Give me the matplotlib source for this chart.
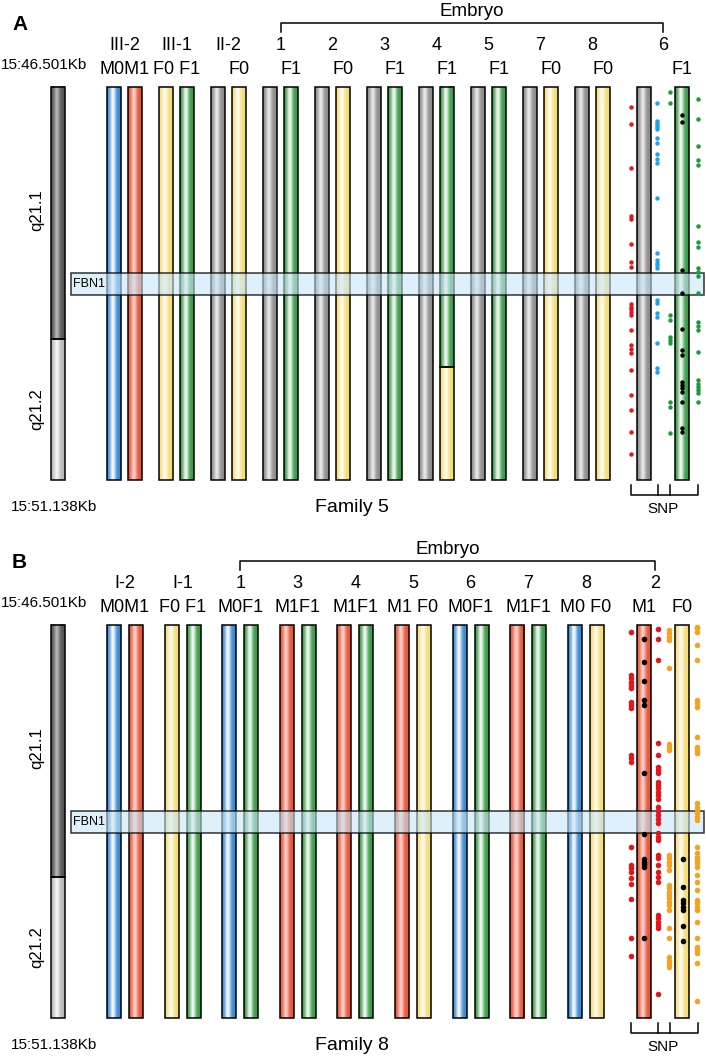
import numpy as np
import matplotlib
matplotlib.use("Agg")
import matplotlib.pyplot as plt
from matplotlib.patches import Rectangle
from matplotlib.colors import to_rgb

plt.rcParams['font.family'] = ['Liberation Sans', 'DejaVu Sans']

# ---------------- data ----------------
REGION_START = 46.501   # Mb, chr15
REGION_END = 51.138
BAND_BOUNDARY = 49.48   # q21.1 / q21.2
FBN1_START = 48.69
FBN1_END = 48.96

# Panel A (Family 5)
A_samples = ["III-2", "III-1", "II-2", "1", "2", "3", "4", "5", "7", "8", "6"]
A_haps = [("M0", "M1"), ("F0", "F1"), ("N", "F0"), ("N", "F1"), ("N", "F0"),
          ("N", "F1"), ("N", "F1"), ("N", "F1"), ("N", "F0"), ("N", "F0"), ("N", "F1")]
A_recomb = {6: (49.805, "F0")}  # embryo 4 second haplotype switches to F0 below this
A_snp_red = [46.737, 46.938, 47.457, 48.023, 48.059, 48.354, 48.566, 48.625, 49.062, 49.097,
             49.121, 49.156, 49.191, 49.368, 49.545, 49.593, 49.640, 49.840, 50.135, 50.312,
             50.572, 50.832]
A_snp_blue = [46.690, 46.902, 46.926, 46.949, 46.973, 46.997, 47.103, 47.162, 47.292, 47.351,
              47.398, 47.811, 48.460, 48.542, 48.578, 48.601, 48.637, 49.014, 49.050, 49.168,
              49.215, 49.522, 49.817, 49.864]
A_snp_green_l = [46.560, 46.690, 49.191, 49.250, 49.451, 49.486, 49.522, 50.218, 50.277, 50.584]
A_snp_green_r = [46.643, 46.879, 47.197, 47.362, 47.421, 48.141, 48.330, 48.389, 48.637, 48.684,
                 48.731, 48.932, 49.274, 49.321, 49.368, 49.628, 49.958, 50.006, 50.041, 50.076,
                 50.112, 50.218]
A_snp_black = [46.831, 46.914, 48.660, 48.932, 49.357, 49.604, 49.663, 49.982, 50.017, 50.053,
               50.100, 50.218, 50.525, 50.572]

# Panel B (Family 8)
B_samples = ["I-2", "I-1", "1", "3", "4", "5", "6", "7", "8", "2"]
B_haps = [("M0", "M1"), ("F0", "F1"), ("M0", "F1"), ("M1", "F1"), ("M1", "F1"),
          ("M1", "F0"), ("M0", "F1"), ("M1", "F1"), ("M0", "F0"), ("M1", "F0")]
B_snp_red_l = [46.584, 47.091, 47.126, 47.174, 47.209, 47.244, 47.410, 47.445, 47.480, 48.035,
               48.070, 48.118, 49.121, 49.333, 49.368, 49.416, 49.486, 49.557, 49.734, 50.194,
               50.407]
B_snp_red_r = [46.548, 46.666, 46.914, 47.893, 48.035, 48.177, 48.212, 48.247, 48.354, 48.389,
               48.424, 48.472, 48.507, 48.554, 48.649, 48.696, 48.743, 48.790, 48.837, 48.955,
               49.003, 49.038, 49.215, 49.250, 49.333, 49.416, 49.475, 49.534, 49.923, 49.958,
               50.006, 50.041, 50.076, 50.855]
B_snp_orange_l = [46.560, 46.595, 46.643, 46.678, 47.008, 47.905, 47.941, 47.976, 49.215, 49.250,
                  49.298, 49.333, 49.392, 49.569, 49.604, 49.652, 49.687, 49.722, 49.770, 49.805,
                  49.864, 50.076, 50.194, 50.419, 50.466, 50.501, 50.537]
B_snp_orange_r = [46.520, 46.540, 46.584, 46.737, 46.914, 47.386, 47.421, 47.469, 47.823, 47.941,
                  47.976, 48.011, 48.601, 48.649, 48.684, 48.719, 48.767, 48.802, 49.121, 49.191,
                  49.239, 49.274, 49.309, 49.357, 49.451, 49.534, 49.628, 49.746, 49.781, 49.829,
                  49.864, 50.006, 50.194, 50.301, 50.336, 50.371, 50.489, 50.938]
B_snp_black_m = [46.666, 46.938, 47.162, 47.386, 47.445, 48.247, 48.967, 49.262, 49.298, 49.321,
                 49.357, 50.194]
B_snp_black_f = [49.262, 49.593, 49.746, 49.781, 49.829, 49.864, 50.053, 50.230]

# ---------------- styling ----------------
HAP_COLORS = {"M0": ("#3a8ad4", 0.95), "M1": ("#e8553a", 0.72), "F0": ("#f6dc74", 0.9),
              "F1": ("#3c9c48", 0.92), "N": ("#8c8c8c", 0.8)}
DOT_RED, DOT_BLUE, DOT_GREEN, DOT_ORANGE = "#e8141c", "#1ea3ea", "#1a9a3a", "#f5a21e"

fig = plt.figure(figsize=(7.06, 10.60), dpi=100)
ax = fig.add_axes([0, 0, 1, 1])
ax.axis('off')

BAR_W = 14
BAR_LEN = 393
LAB_FS = 13


def gradient(base, strength, center=0.42, width=0.22, n=40):
    t = np.linspace(0, 1, n)
    h = np.exp(-((t - center) / width) ** 2) * strength
    b = np.array(to_rgb(base))
    img = b[None, :] * (1 - h[:, None]) + h[:, None]
    return img[None, :, :]


def mb2y(mb, top):
    return top + (np.asarray(mb) - REGION_START) / (REGION_END - REGION_START) * BAR_LEN


def bar(x0, y0, y1, base, strength, z=2):
    ax.imshow(gradient(base, strength), extent=[x0, x0 + BAR_W, y1, y0], aspect='auto',
              interpolation='bilinear', zorder=z)


def outline(x0, y0, y1, z=3):
    ax.add_patch(Rectangle((x0, y0), BAR_W, y1 - y0, fill=False, ec='black', lw=1.1, zorder=z))


def draw_panel(top, letter, samples, haps, pair_x, dx, family, recomb, label6_x, snp_sets,
               embryo_first):
    bottom = top + BAR_LEN
    ax.text(12, top - 62, letter, fontsize=15, fontweight='bold', ha='left', va='center')
    ax.text(1, top - 22, "15:46.501Kb", fontsize=11, ha='left', va='center')
    ax.text(11, bottom + 27, "15:51.138Kb", fontsize=11, ha='left', va='center')
    ax.text(315, bottom + 27, family, fontsize=14, ha='left', va='center')
    # chromosome ideogram
    cx = 51
    yb = mb2y(BAND_BOUNDARY, top)
    bar(cx, top, yb, "#555555", 0.55)
    bar(cx, yb, bottom, "#b8b8b8", 0.85)
    outline(cx, top, yb)
    outline(cx, yb, bottom)
    ax.text(37, mb2y(47.95, top), "q21.1", rotation=90, fontsize=12, ha='center', va='center')
    ax.text(37, mb2y(50.3, top), "q21.2", rotation=90, fontsize=12, ha='center', va='center')
    # haplotype bars
    n = len(samples)
    for i, (s, hp) in enumerate(zip(samples, haps)):
        px = pair_x[i]
        d = dx if i < n - 1 else 38
        xs = [px, px + d]
        for j, h in enumerate(hp):
            x0 = xs[j]
            if i in recomb and j == 1:
                bp, h2 = recomb[i]
                ys = mb2y(bp, top)
                bar(x0, top, ys, *HAP_COLORS[h])
                bar(x0, ys, bottom, *HAP_COLORS[h2])
                outline(x0, top, ys)
                outline(x0, ys, bottom)
            else:
                bar(x0, top, bottom, *HAP_COLORS[h])
                outline(x0, top, bottom)
        # haplotype labels
        named = [h for h in hp if h != "N"]
        if i < n - 1 and len(named) == 2:
            sep = " " if "F0" in named else ""
            ax.text(px + (d + BAR_W) / 2, top - 17, named[0] + sep + named[1], fontsize=LAB_FS,
                    ha='center', va='center')
        else:
            for j, h in enumerate(hp):
                if h != "N":
                    ax.text(xs[j] + BAR_W / 2, top - 17, h, fontsize=LAB_FS, ha='center',
                            va='center')
        cxl = px + (d + BAR_W) / 2 if i < n - 1 else label6_x
        ax.text(cxl, top - 42, s, fontsize=LAB_FS, ha='center', va='center')
    # embryo bracket
    ex0 = pair_x[embryo_first] + (dx + BAR_W) / 2
    ey = top - 64
    ax.plot([ex0, ex0, label6_x, label6_x], [ey + 9, ey, ey, ey + 9], color='black', lw=1.1)
    ax.text((ex0 + label6_x) / 2, ey - 12, "Embryo", fontsize=13.5, ha='center', va='center')
    # FBN1 band
    f0, f1 = mb2y(FBN1_START, top), mb2y(FBN1_END, top)
    ax.add_patch(Rectangle((71, f0), 633, f1 - f0, fc='#c9e6f6', ec='none', alpha=0.6, zorder=4))
    ax.add_patch(Rectangle((71, f0), 633, f1 - f0, fill=False, ec='black', lw=1.1, alpha=0.8,
                           zorder=4))
    ax.text(73, (f0 + f1) / 2, "FBN1", fontsize=9, ha='left', va='center', zorder=5)
    # SNP dots
    for xs_, vals, col, ms in snp_sets:
        ys = mb2y(vals, top)
        ax.plot(np.full(len(ys), xs_), ys, 'o', ms=ms, color=col, mew=0, zorder=6)
    # SNP bracket
    by = bottom + 15
    ax.plot([631, 631, 698, 698], [by - 10, by, by, by - 10], color='black', lw=1.1)
    ax.plot([658, 658], [by - 10, by], color='black', lw=1.1)
    ax.plot([670, 670], [by - 10, by], color='black', lw=1.1)
    ax.text(663, by + 14, "SNP", fontsize=11, ha='center', va='center')


A_pair_x = [107 + 52 * i for i in range(10)] + [637]
draw_panel(87, "A", A_samples, A_haps, A_pair_x, 21, "Family 5", A_recomb, 663,
           [(631, A_snp_red, DOT_RED, 3.2), (657, A_snp_blue, DOT_BLUE, 3.2),
            (670, A_snp_green_l, DOT_GREEN, 3.2), (698, A_snp_green_r, DOT_GREEN, 3.2),
            (682, A_snp_black, 'black', 3.2)], 3)

B_pair_x = [107 + 57.6 * i for i in range(9)] + [637]
draw_panel(625, "B", B_samples, B_haps, B_pair_x, 22, "Family 8", {}, 655,
           [(631, B_snp_red_l, DOT_RED, 4.0), (658, B_snp_red_r, DOT_RED, 4.0),
            (669, B_snp_orange_l, DOT_ORANGE, 4.0), (697, B_snp_orange_r, DOT_ORANGE, 4.0),
            (644, B_snp_black_m, 'black', 4.0), (683, B_snp_black_f, 'black', 4.0)], 2)

ax.set_xlim(0, 706)
ax.set_ylim(1060, 0)
fig.savefig("out.png", dpi=100)
